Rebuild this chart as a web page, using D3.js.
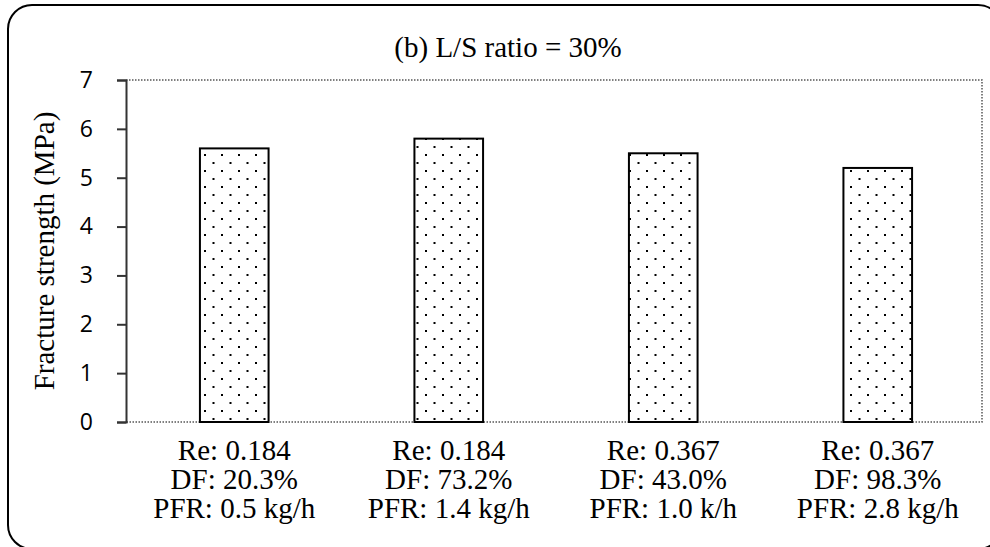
<!DOCTYPE html>
<html>
<head>
<meta charset="utf-8">
<script src="https://cdn.jsdelivr.net/npm/d3@7"></script>
<style>
  body { margin: 0; background: #fff; }
  svg { display: block; }
</style>
</head>
<body>
<svg id="chart" width="990" height="547"></svg>
<script>
// data
const categories = [
  ["Re: 0.184", "DF: 20.3%", "PFR: 0.5 kg/h"],
  ["Re: 0.184", "DF: 73.2%", "PFR: 1.4 kg/h"],
  ["Re: 0.367", "DF: 43.0%", "PFR: 1.0 k/h"],
  ["Re: 0.367", "DF: 98.3%", "PFR: 2.8 kg/h"]
];
const strength = [5.6, 5.8, 5.5, 5.2];
const yTicks = [0, 1, 2, 3, 4, 5, 6, 7];
const title = "(b) L/S ratio = 30%";
const yTitle = "Fracture strength (MPa)";

const serif = '"Liberation Serif", "Times New Roman", serif';
const sans = '"Open Sans", "Liberation Sans", sans-serif';

const svg = d3.select("#chart");
const plotL = 126, plotR = 982, plotT = 80, plotB = 422;

// outer rounded frame
svg.append("rect")
  .attr("x", 8).attr("y", 5)
  .attr("width", 994).attr("height", 544)
  .attr("rx", 24).attr("ry", 24)
  .attr("fill", "none")
  .attr("stroke", "#000")
  .attr("stroke-width", 2);

// dot pattern for bars
const defs = svg.append("defs");
const pat = defs.append("pattern")
  .attr("id", "dots")
  .attr("patternUnits", "userSpaceOnUse")
  .attr("width", 17).attr("height", 16)
  .attr("x", 204).attr("y", 154);
pat.append("rect").attr("x", 0).attr("y", 0).attr("width", 2).attr("height", 2).attr("fill", "#000");
pat.append("rect").attr("x", 8.5).attr("y", 8).attr("width", 2).attr("height", 2).attr("fill", "#000");

const x = d3.scaleBand()
  .domain(d3.range(categories.length))
  .range([plotL + 1, plotR + 3])
  .paddingInner(0.68)
  .paddingOuter(0.34);

const y = d3.scaleLinear()
  .domain([0, 7])
  .range([plotB, plotT]);

// dotted plot border (top, right, bottom)
svg.append("path")
  .attr("d", `M${plotL},${plotT}H${plotR}V${plotB}H${plotL}`)
  .attr("fill", "none")
  .attr("stroke", "#555")
  .attr("stroke-width", 1.5)
  .attr("stroke-dasharray", "1.5,1.5");

// bars
svg.append("g").selectAll("rect")
  .data(strength)
  .join("rect")
  .attr("x", (d, i) => x(i))
  .attr("y", d => y(d))
  .attr("width", x.bandwidth())
  .attr("height", d => y(0) - y(d))
  .attr("fill", "url(#dots)")
  .attr("stroke", "#000")
  .attr("stroke-width", 2);

// y axis
const yAxis = svg.append("g")
  .attr("transform", `translate(${plotL},0)`)
  .call(d3.axisLeft(y).tickValues(yTicks).tickSize(9).tickPadding(24).tickFormat(d3.format("d")));
yAxis.select(".domain").attr("stroke", "#333").attr("stroke-width", 2);
yAxis.selectAll(".tick line").attr("stroke", "#333").attr("stroke-width", 2);
yAxis.selectAll(".tick text")
  .style("font-family", sans)
  .style("font-size", "23px")
  .attr("fill", "#000");

// x labels, three lines each
const xl = svg.append("g").selectAll("text")
  .data(categories)
  .join("text")
  .attr("text-anchor", "middle")
  .style("font-family", serif)
  .style("font-size", "29px")
  .attr("fill", "#000");
xl.selectAll("tspan")
  .data((d, i) => d.map(s => ({ s, i })))
  .join("tspan")
  .attr("x", d => x(d.i) + x.bandwidth() / 2)
  .attr("y", (d, j) => 460 + j * 29)
  .text(d => d.s);

// title
svg.append("text")
  .attr("x", 508).attr("y", 57)
  .attr("text-anchor", "middle")
  .style("font-family", serif)
  .style("font-size", "29px")
  .text(title);

// y title
svg.append("text")
  .attr("transform", "translate(54,251) rotate(-90)")
  .attr("text-anchor", "middle")
  .style("font-family", serif)
  .style("font-size", "29px")
  .text(yTitle);
</script>
</body>
</html>
